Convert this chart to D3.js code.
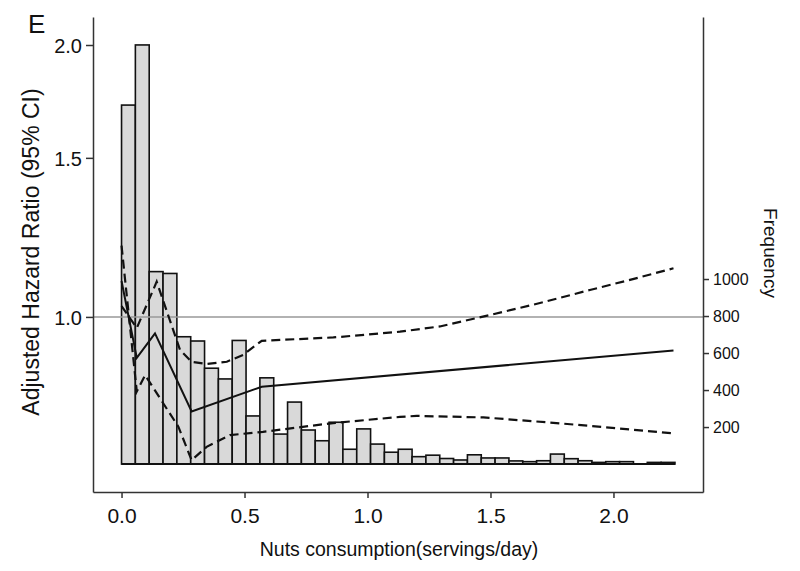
<!DOCTYPE html>
<html>
<head>
<meta charset="utf-8">
<script src="https://cdn.jsdelivr.net/npm/d3@7"></script>
<style>
  body { margin: 0; background: #fff; }
  svg { font-family: "Liberation Sans", Arial, Helvetica, sans-serif; }
</style>
</head>
<body>
<div class="chart"></div>
<script>
// histogram of intake, 40 bins of equal width from 0 to 2.25 servings/day
const BIN_WIDTH = 0.05625;
const FREQUENCIES = [
  1940, 2265, 1040, 1030, 688, 665, 518, 460, 668, 260,
  466, 162, 335, 184, 126, 226, 80, 190, 108, 64,
  80, 40, 48, 30, 22, 50, 33, 33, 17, 13,
  18, 54, 29, 18, 9, 13, 13, 0, 9, 9,
];

// spline estimate and 95% CI, [servings/day, hazard ratio]
const HR_ESTIMATE = [
  [0, 1.096], [0.062, 0.901], [0.136, 0.959], [0.285, 0.786],
  [0.57, 0.837], [2.244, 0.918],
];
const HR_UPPER = [
  [0, 1.028], [0.062, 0.972], [0.143, 1.094], [0.238, 0.919],
  [0.285, 0.892], [0.346, 0.887], [0.428, 0.892], [0.495, 0.908],
  [0.57, 0.941], [0.861, 0.949], [1.132, 0.963], [1.294, 0.976],
  [1.498, 1.005], [1.701, 1.036], [1.904, 1.071], [2.067, 1.099],
  [2.244, 1.132],
];
const HR_LOWER = [
  [0, 1.199], [0.062, 0.827], [0.096, 0.862], [0.17, 0.802],
  [0.231, 0.756], [0.285, 0.694], [0.346, 0.718], [0.441, 0.74],
  [0.575, 0.746], [0.86, 0.763], [1.132, 0.775], [1.2, 0.777],
  [1.471, 0.774], [1.742, 0.764], [2.013, 0.753], [2.244, 0.743],
];

const X_TICKS = [0, 0.5, 1, 1.5, 2];
const HR_TICKS = [1, 1.5, 2];
const FREQ_TICKS = [200, 400, 600, 800, 1000];

const WIDTH = 800;
const HEIGHT = 571;
const LEFT = 93;
const RIGHT = 703;
const TOP = 17;
const BOTTOM = 492;

const svg = d3.select(".chart")
  .append("svg")
  .attr("width", WIDTH)
  .attr("height", HEIGHT);

const xScale = d3.scaleLinear().domain([-0.116, 2.364]).range([LEFT, RIGHT]);
const hrScale = d3.scaleLog().domain([0.64, 2.148]).range([BOTTOM, TOP]);
const freqScale = d3.scaleLinear().domain([-151, 2416]).range([BOTTOM, TOP]);

// histogram bars
const bars = svg.append("g").attr("class", "bars");
bars.selectAll("rect")
  .data(FREQUENCIES)
  .join("rect")
  .attr("x", (d, i) => xScale(i * BIN_WIDTH))
  .attr("width", xScale(BIN_WIDTH) - xScale(0))
  .attr("y", d => freqScale(d))
  .attr("height", d => freqScale(0) - freqScale(d))
  .attr("fill", "#d9d9d9")
  .attr("stroke", "#111")
  .attr("stroke-width", 1.6);

// baseline under the histogram (also shows the empty bins)
bars.append("line")
  .attr("x1", xScale(0))
  .attr("x2", xScale(FREQUENCIES.length * BIN_WIDTH))
  .attr("y1", freqScale(0))
  .attr("y2", freqScale(0))
  .attr("stroke", "#111")
  .attr("stroke-width", 2);

// reference line at HR = 1
svg.append("line")
  .attr("x1", LEFT)
  .attr("x2", RIGHT)
  .attr("y1", hrScale(1))
  .attr("y2", hrScale(1))
  .attr("stroke", "#999")
  .attr("stroke-width", 1.5);

const line = d3.line()
  .x(d => xScale(d[0]))
  .y(d => hrScale(d[1]));

svg.append("path")
  .datum(HR_ESTIMATE)
  .attr("d", line)
  .attr("fill", "none")
  .attr("stroke", "#111")
  .attr("stroke-width", 2);

[HR_UPPER, HR_LOWER].forEach(series => {
  svg.append("path")
    .datum(series)
    .attr("d", line)
    .attr("fill", "none")
    .attr("stroke", "#111")
    .attr("stroke-width", 2.2)
    .attr("stroke-dasharray", "9,5");
});

// axes
const xAxis = svg.append("g")
  .attr("transform", `translate(0, ${BOTTOM})`)
  .call(d3.axisBottom(xScale)
    .tickValues(X_TICKS)
    .tickFormat(d3.format(".1f"))
    .tickSize(6)
    .tickSizeOuter(0)
    .tickPadding(10));

const yAxis = svg.append("g")
  .attr("transform", `translate(${LEFT}, 0)`)
  .call(d3.axisLeft(hrScale)
    .tickValues(HR_TICKS)
    .tickFormat(d3.format(".1f"))
    .tickSize(7)
    .tickSizeOuter(0)
    .tickPadding(4));

const freqAxis = svg.append("g")
  .attr("transform", `translate(${RIGHT}, 0)`)
  .call(d3.axisRight(freqScale)
    .tickValues(FREQ_TICKS)
    .tickFormat(d3.format("d"))
    .tickSize(6)
    .tickSizeOuter(0)
    .tickPadding(4));

[xAxis, yAxis, freqAxis].forEach(g => {
  g.select(".domain").attr("stroke", "#333").attr("stroke-width", 1.5);
  g.selectAll(".tick line").attr("stroke", "#333").attr("stroke-width", 1.5);
  g.selectAll(".tick text").attr("fill", "#111");
});
xAxis.selectAll(".tick text").attr("font-size", 21);
yAxis.selectAll(".tick text").attr("font-size", 20).attr("dy", "0.36em");
freqAxis.selectAll(".tick text").attr("font-size", 16);

// titles
svg.append("text")
  .attr("transform", "translate(39, 252) rotate(-90)")
  .attr("text-anchor", "middle")
  .attr("font-size", 23)
  .attr("fill", "#111")
  .text("Adjusted Hazard Ratio (95% CI)");

svg.append("text")
  .attr("x", 399)
  .attr("y", 556)
  .attr("text-anchor", "middle")
  .attr("font-size", 19.5)
  .attr("fill", "#111")
  .text("Nuts consumption(servings/day)");

svg.append("text")
  .attr("transform", "translate(764, 253) rotate(90)")
  .attr("text-anchor", "middle")
  .attr("font-size", 19)
  .attr("fill", "#111")
  .text("Frequency");

svg.append("text")
  .attr("x", 28)
  .attr("y", 33)
  .attr("font-size", 26)
  .attr("fill", "#111")
  .text("E");
</script>
</body>
</html>
